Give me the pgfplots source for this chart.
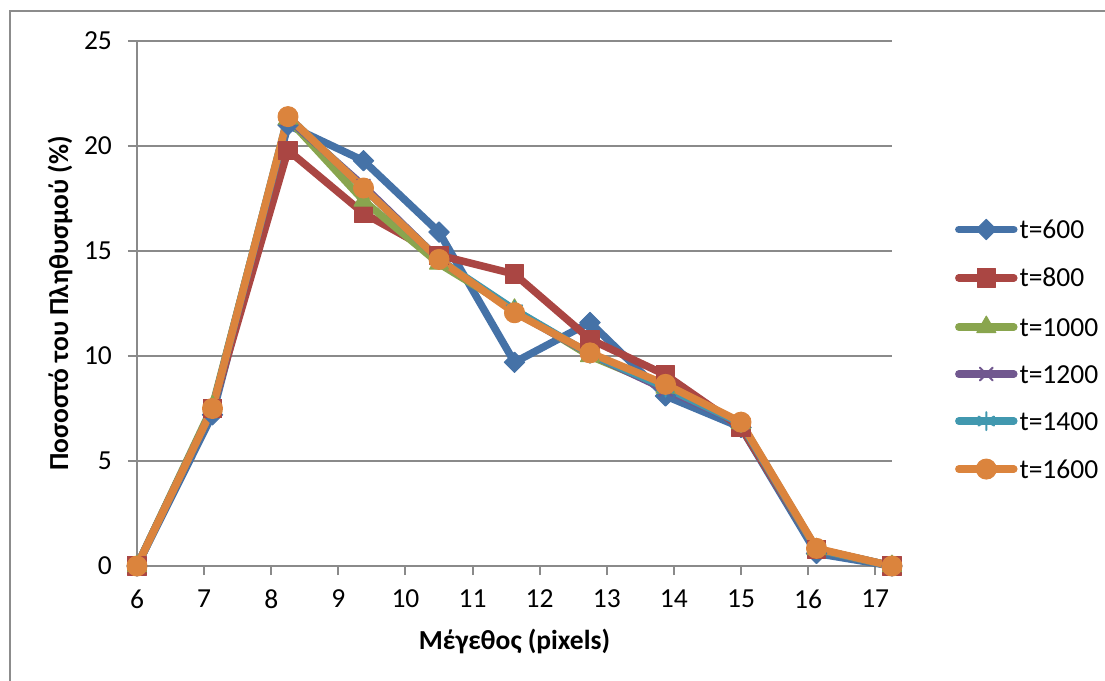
\documentclass[border=0pt]{standalone}
\usepackage{fontspec}
\setmainfont{Carlito}
\usepackage{pgfplots}
\pgfplotsset{compat=1.18}

\definecolor{cBlue}{HTML}{4572A7}
\definecolor{cRed}{HTML}{AA4643}
\definecolor{cGreen}{HTML}{89A54E}
\definecolor{cPurple}{HTML}{71588F}
\definecolor{cTeal}{HTML}{4198AF}
\definecolor{cOrange}{HTML}{DB843D}
\definecolor{cFrame}{HTML}{8C8C8C}
\definecolor{cGrid}{HTML}{8A8A8A}

\pgfplotsset{
  series/.style={line width=3.75pt, line cap=round, line join=round},
}

\begin{document}
\begin{tikzpicture}[font=\fontsize{13.75}{16}\selectfont]
  % page area and outer chart frame
  \useasboundingbox (0,0) rectangle (552.5pt,-340.5pt);
  \draw[cFrame, line width=1pt] (5pt,-340.5pt) -- (5pt,-5.5pt) -- (552.5pt,-5.5pt);

  \begin{axis}[
    at={(68.5pt,-283pt)}, anchor=south west,
    scale only axis,
    width=377.5pt, height=262.5pt,
    xmin=6, xmax=17.25, ymin=0, ymax=25,
    xtick={6,...,17}, ytick={0,5,...,25},
    axis lines*=left,
    axis line style={cGrid, line width=1pt},
    ymajorgrids,
    major grid style={cGrid, line width=1pt},
    tick align=outside,
    major tick length=4.5pt,
    tick style={cGrid, line width=1pt},
    /pgf/number format/assume math mode=true,
    yticklabel style={xshift=-4.5pt},
    xticklabel style={yshift=-4pt},
    xlabel={\textbf{Μέγεθος (pixels)}},
    ylabel={\textbf{Ποσοστό του Πληθυσμού (\%)}},
    xlabel style={at={(axis description cs:0.5,-0.143)}, anchor=center},
    ylabel style={at={(axis description cs:-0.102,0.5)}, anchor=center},
    clip=false,
    legend cell align=left,
    legend style={
      at={(axis description cs:1.083,0.413)}, anchor=west,
      draw=none, fill=none, inner sep=0pt,
      row sep=14.5pt,
      nodes={inner sep=0pt, text height=9pt, text depth=0pt},
      /tikz/every odd column/.append style={column sep=1pt},
    },
    legend image code/.code={
      \draw[mark repeat=2, mark phase=2]
        plot coordinates {(0pt,0pt) (13.75pt,0pt) (27.5pt,0pt)};
    },
  ]
    \addplot[series, cBlue, mark=square*, mark size=3.6pt,
      mark options={rotate=45, line width=0.5pt}]
      coordinates {(6,0) (7.125,7.2) (8.25,21.0) (9.375,19.3) (10.5,15.9)
        (11.625,9.7) (12.75,11.6) (13.875,8.1) (15,6.6) (16.125,0.6) (17.25,0)};
    \addlegendentry{t=600}
    \addplot[series, cRed, mark=square*, mark size=4.6pt,
      mark options={line width=0.5pt}]
      coordinates {(6,0) (7.125,7.5) (8.25,19.8) (9.375,16.8) (10.5,14.8)
        (11.625,13.9) (12.75,10.8) (13.875,9.1) (15,6.6) (16.125,0.8) (17.25,0)};
    \addlegendentry{t=800}
    \addplot[series, cGreen, mark=triangle*, mark size=5.5pt,
      mark options={line width=0.5pt}]
      coordinates {(6,0) (7.125,7.6) (8.25,21.3) (9.375,17.4) (10.5,14.4)
        (11.625,12.2) (12.75,10.0) (13.875,8.5) (15,6.8) (16.125,0.8) (17.25,0)};
    \addlegendentry{t=1000}
    \addplot[series, cPurple, mark=x, mark size=4.5pt,
      mark options={line width=1pt}]
      coordinates {(6,0) (7.125,7.5) (8.25,21.3) (9.375,18.1) (10.5,14.6)
        (11.625,12.1) (12.75,10.1) (13.875,8.4) (15,6.8) (16.125,0.8) (17.25,0)};
    \addlegendentry{t=1200}
    \addplot[series, cTeal, mark=asterisk, mark size=4.5pt,
      mark options={line width=1pt}]
      coordinates {(6,0) (7.125,7.5) (8.25,21.4) (9.375,18.0) (10.5,14.6)
        (11.625,12.2) (12.75,10.1) (13.875,8.5) (15,6.8) (16.125,0.8) (17.25,0)};
    \addlegendentry{t=1400}
    \addplot[series, cOrange, mark=*, mark size=5pt,
      mark options={line width=0.5pt}]
      coordinates {(6,0) (7.125,7.5) (8.25,21.4) (9.375,18.0) (10.5,14.6)
        (11.625,12.06) (12.75,10.15) (13.875,8.65) (15,6.85) (16.125,0.84) (17.25,0)};
    \addlegendentry{t=1600}
  \end{axis}
\end{tikzpicture}
\end{document}
